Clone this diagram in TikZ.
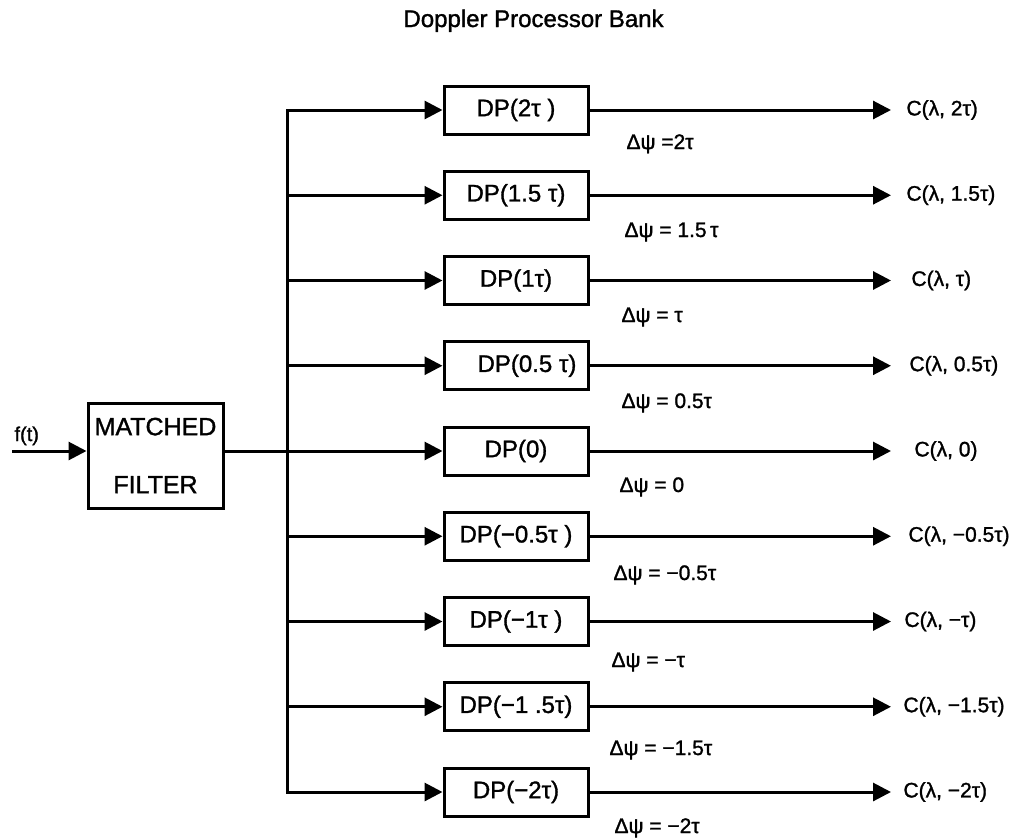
\documentclass[tikz,border=0pt]{standalone}
\usepackage{fontspec}
\setmainfont{Liberation Sans}[FakeBold=1.3]
\usetikzlibrary{arrows.meta}
\begin{document}
\begin{tikzpicture}[x=1pt,y=-1pt,line width=3pt,
  tip/.style={-{Triangle[length=18pt,width=18pt]}},
  tiptip/.style={{Triangle[length=18pt,width=18pt]}-{Triangle[length=18pt,width=18pt]}},
  dpbox/.style={draw,minimum width=144pt,minimum height=48pt,inner sep=0pt,font=\fontsize{24}{28}\selectfont},
  outlab/.style={anchor=west,inner sep=0pt,font=\fontsize{21}{25}\selectfont},
  dlab/.style={anchor=base west,inner sep=0pt,font=\fontsize{21}{25}\selectfont},
  plain/.style={anchor=base west,inner sep=0pt},
]
\useasboundingbox (0,0) rectangle (1027,838);
\node[plain,font=\fontsize{24}{28}\selectfont] (title) at (402,27) {Doppler Processor Bank};
\node[draw,minimum width=135pt,minimum height=105pt,inner sep=0pt,align=center,font=\fontsize{25}{58}\selectfont] (mf) at (155.5,455.5) {MATCHED\\FILTER};
\coordinate (in) at (12,451);
\node[plain,font=\fontsize{20}{24}\selectfont] (ft) at (13,441) {f(t)};
\draw[tip] (in) -- (mf.west |- in);
% bus coordinates
\coordinate (b1) at (287,110);
\coordinate (b2) at (287,195.25);
\coordinate (b3) at (287,280.5);
\coordinate (b4) at (287,365.75);
\coordinate (b5) at (287,451);
\coordinate (b6) at (287,536.25);
\coordinate (b7) at (287,621.5);
\coordinate (b8) at (287,706.75);
\coordinate (b9) at (287,792);
% DP boxes
\node[dpbox] (dp1) at (516,110) {DP(2τ )};
\node[dpbox] (dp2) at (516,195.25) {DP(1.5 τ)};
\node[dpbox] (dp3) at (516,280.5) {DP(1τ)};
\node[dpbox] (dp4) at (516,365.75) {\hspace{22pt}DP(0.5 τ)};
\node[dpbox] (dp5) at (516,451) {DP(0)};
\node[dpbox] (dp6) at (516,536.25) {DP(−0.5τ )};
\node[dpbox] (dp7) at (516,621.5) {DP(−1τ )};
\node[dpbox] (dp8) at (516,706.75) {DP(−1 .5τ)};
\node[dpbox] (dp9) at (516,792) {DP(−2τ)};
% output ends
\foreach \i/\y in {1/110,2/195.25,3/280.5,4/365.75,5/451,6/536.25,7/621.5,8/706.75,9/792}
  \coordinate (o\i) at (891,\y);
% output labels
\node[outlab] (c1) at (905,110) {C(λ, 2τ)};
\node[outlab] (c2) at (905,195.25) {C(λ, 1.5τ)};
\node[outlab] (c3) at (910,280.5) {C(λ, τ)};
\node[outlab] (c4) at (908,365.75) {C(λ, 0.5τ)};
\node[outlab] (c5) at (913,451) {C(λ, 0)};
\node[outlab] (c6) at (907,536.25) {C(λ, −0.5τ)};
\node[outlab] (c7) at (903,621.5) {C(λ, −τ)};
\node[outlab] (c8) at (902,706.75) {C(λ, −1.5τ)};
\node[outlab] (c9) at (902,792) {C(λ, −2τ)};
% delta psi labels
\node[dlab] (d1) at (625,149) {Δψ =2τ};
\node[dlab] (d2) at (623,237) {Δψ = 1.5\,τ};
\node[dlab] (d3) at (620,322) {Δψ = τ};
\node[dlab] (d4) at (620,408) {Δψ = 0.5τ};
\node[dlab] (d5) at (618,492) {Δψ = 0};
\node[dlab] (d6) at (612,580) {Δψ = −0.5τ};
\node[dlab] (d7) at (610,667) {Δψ = −τ};
\node[dlab] (d8) at (608,755) {Δψ = −1.5τ};
\node[dlab] (d9) at (613,833) {Δψ = −2τ};
% connectors
\draw[tiptip] (dp1.west) -- (b1) -- (b9) -- (dp9.west);
\draw (mf.east |- b5) -- (b5);
\foreach \i in {2,...,8}
  \draw[tip] (b\i) -- (dp\i.west);
\foreach \i in {1,...,9}
  \draw[tip] (dp\i.east) -- (o\i);
\end{tikzpicture}
\end{document}
